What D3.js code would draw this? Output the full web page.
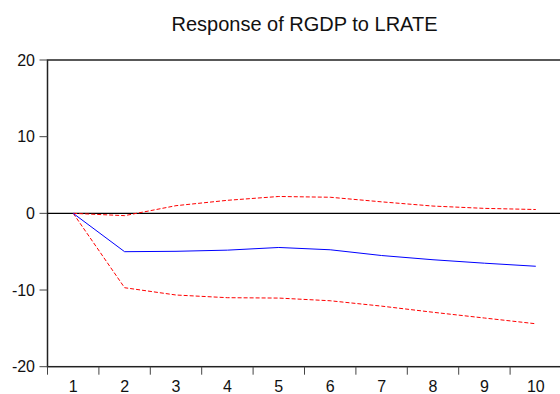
<!DOCTYPE html>
<html lang="en">
<head>
    <meta charset="UTF-8">
    <script src="https://cdn.jsdelivr.net/npm/d3@7.8.5/dist/d3.min.js"></script>
    <title>Response of RGDP to LRATE</title>
    <style>
        body { margin: 0; background: #fff; }
        text { font-family: "Liberation Sans", Arial, sans-serif; fill: #111; }
    </style>
</head>
<body>
    <svg width="560" height="394"></svg>
    <script type="text/javascript">
        // periods after the shock
        var periods = [1, 2, 3, 4, 5, 6, 7, 8, 9, 10];
        // impulse response and +/- 2 s.e. bands
        var response = [0, -5.0, -4.95, -4.8, -4.45, -4.75, -5.5, -6.05, -6.5, -6.9];
        var upperBand = [0, -0.3, 1.0, 1.7, 2.2, 2.1, 1.5, 0.95, 0.65, 0.5];
        var lowerBand = [0, -9.7, -10.65, -11.0, -11.05, -11.4, -12.1, -12.9, -13.65, -14.4];
        var yTicks = [20, 10, 0, -10, -20];

        var svg = d3.select("svg");
        // plot box (note: "top" is a reserved window property, so use other names)
        var plotL = 47.5, plotR = 561.5, plotT = 60, plotB = 366.7;

        var x = d3.scaleBand().domain(periods).range([plotL, plotR]).padding(0);
        var y = d3.scaleLinear().domain([-20, 20]).range([plotB, plotT]);

        // title
        svg.append("text")
            .attr("x", 304.5).attr("y", 30.5)
            .attr("text-anchor", "middle")
            .style("font-size", "20px")
            .text("Response of RGDP to LRATE");

        // frame
        svg.append("rect")
            .attr("x", plotL).attr("y", plotT)
            .attr("width", plotR - plotL).attr("height", plotB - plotT)
            .attr("fill", "none").attr("stroke", "#222").attr("stroke-width", 1.5);

        // y axis ticks and labels
        var yAxis = svg.append("g");
        yAxis.selectAll("line").data(yTicks).enter().append("line")
            .attr("x1", plotL - 8).attr("x2", plotL)
            .attr("y1", function(d){ return y(d); }).attr("y2", function(d){ return y(d); })
            .attr("stroke", "#444").attr("stroke-width", 1);
        yAxis.selectAll("text").data(yTicks).enter().append("text")
            .attr("x", 35).attr("y", function(d){ return y(d); })
            .attr("dy", "0.36em")
            .attr("text-anchor", "end")
            .style("font-size", "16px")
            .text(function(d){ return d; });

        // x axis ticks at band edges, labels at centres
        var xAxis = svg.append("g");
        xAxis.selectAll("line").data(periods).enter().append("line")
            .attr("x1", function(d){ return x(d); }).attr("x2", function(d){ return x(d); })
            .attr("y1", plotB).attr("y2", plotB + 8)
            .attr("stroke", "#444").attr("stroke-width", 1);
        xAxis.selectAll("text").data(periods).enter().append("text")
            .attr("x", function(d){ return x(d) + x.bandwidth() / 2; })
            .attr("y", 392)
            .attr("text-anchor", "middle")
            .style("font-size", "16px")
            .text(function(d){ return d; });

        // zero line
        svg.append("line")
            .attr("x1", plotL).attr("x2", plotR)
            .attr("y1", y(0)).attr("y2", y(0))
            .attr("stroke", "#000").attr("stroke-width", 1.2);

        var line = d3.line()
            .x(function(d, i){ return x(periods[i]) + x.bandwidth() / 2; })
            .y(function(d){ return y(d); });

        svg.append("path").datum(upperBand)
            .attr("d", line).attr("fill", "none")
            .attr("stroke", "#ff0000").attr("stroke-width", 1).attr("stroke-dasharray", "4,2");
        svg.append("path").datum(lowerBand)
            .attr("d", line).attr("fill", "none")
            .attr("stroke", "#ff0000").attr("stroke-width", 1).attr("stroke-dasharray", "4,2");
        svg.append("path").datum(response)
            .attr("d", line).attr("fill", "none")
            .attr("stroke", "#0000ff").attr("stroke-width", 1);
    </script>
</body>
</html>
